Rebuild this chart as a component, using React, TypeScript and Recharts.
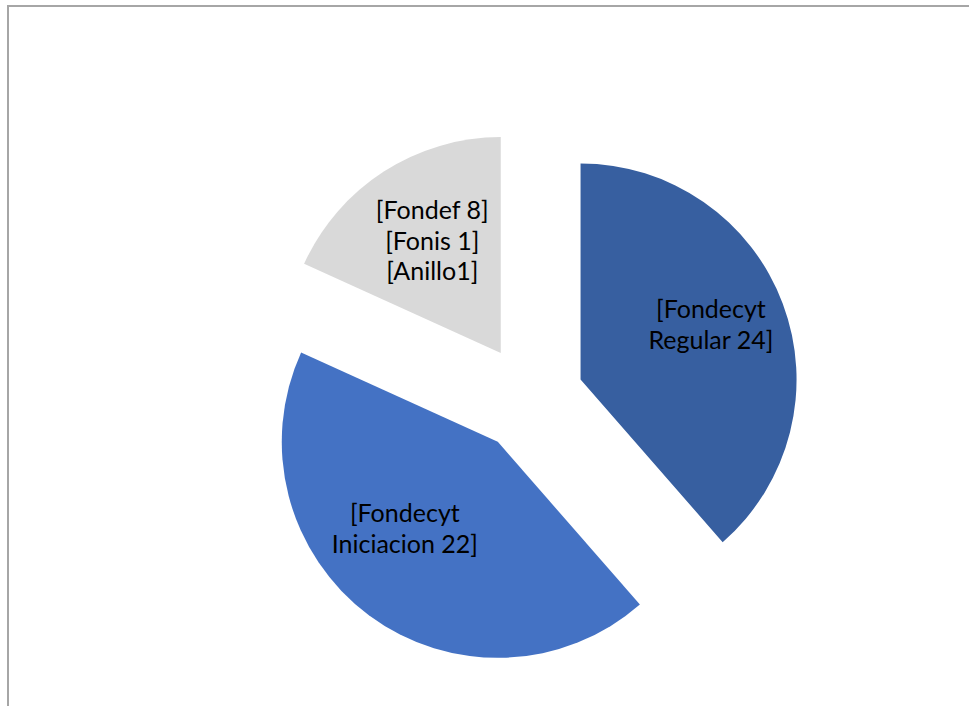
import React from "react";
import { PieChart, Pie, Cell } from "recharts";

// ---- data ----
const categories = ["Fondecyt Regular", "Fondecyt Iniciacion", "Fondef / Fonis / Anillo"];
const values = [21.6, 24.2, 10.2];
const labelLines: string[][] = [
  ["[Fondecyt", "Regular 24]"],
  ["[Fondecyt", "Iniciacion 22]"],
  ["[Fondef 8]", "[Fonis 1]", "[Anillo1]"],
];

// ---- styles ----
const COLORS = ["#375FA0", "#4472C4", "#D9D9D9"];
const W = 969;
const H = 706;
const CX = 530;
const CY = 398.5;
const R = 216;
const EXPLODE = 54;
const LABEL_FRAC = 0.62;
const LABEL_NUDGE = [
  [5, -9],
  [-13, -22],
  [4, -1],
];
const FONT = "Lato, 'Liberation Sans', sans-serif";
const FONT_SIZE = 25;
const LINE_H = 30.5;
const RADIAN = Math.PI / 180;

const rows = categories.map((name, i) => ({ name, value: values[i] }));
const total = values.reduce((a, b) => a + b, 0);
const midAngles = values.map((v, i) => {
  const before = values.slice(0, i).reduce((a, b) => a + b, 0);
  return 90 - ((before + v / 2) / total) * 360;
});

const makeLabel = (idx: number) => (props: any) => {
  if (props.index !== idx) return null;
  const { cx, cy, midAngle, outerRadius } = props;
  const r = outerRadius * LABEL_FRAC;
  const x = cx + r * Math.cos(-midAngle * RADIAN) + LABEL_NUDGE[idx][0];
  const y = cy + r * Math.sin(-midAngle * RADIAN) + LABEL_NUDGE[idx][1];
  const lines = labelLines[idx];
  const startY = y - ((lines.length - 1) * LINE_H) / 2;
  return (
    <text
      key={`lbl-${idx}`}
      x={x}
      y={startY}
      textAnchor="middle"
      dominantBaseline="central"
      fontFamily={FONT}
      fontSize={FONT_SIZE}
      fill="#000000"
    >
      {lines.map((t, k) => (
        <tspan key={k} x={x} y={startY + k * LINE_H}>
          {t}
        </tspan>
      ))}
    </text>
  );
};

export default function App() {
  return (
    <div style={{ position: "absolute", left: 0, top: 0, width: W, height: H, background: "#fff", overflow: "hidden" }}>
      <div
        style={{
          position: "absolute",
          left: 7,
          top: 5,
          width: W,
          height: H,
          borderTop: "2px solid #A6A6A6",
          borderLeft: "2px solid #A6A6A6",
        }}
      />
      <div style={{ position: "absolute", left: 0, top: 0 }}>
        <PieChart width={W} height={H} margin={{ top: 0, right: 0, bottom: 0, left: 0 }}>
          {values.map((_, i) => (
            <Pie
              key={i}
              data={rows}
              dataKey="value"
              nameKey="name"
              cx={CX + EXPLODE * Math.cos(-midAngles[i] * RADIAN)}
              cy={CY + EXPLODE * Math.sin(-midAngles[i] * RADIAN)}
              outerRadius={R}
              innerRadius={0}
              startAngle={90}
              endAngle={-270}
              stroke="none"
              isAnimationActive={false}
              labelLine={false}
              label={makeLabel(i)}
            >
              {rows.map((_, j) => (
                <Cell key={j} fill={j === i ? COLORS[j] : "transparent"} stroke="none" />
              ))}
            </Pie>
          ))}
        </PieChart>
      </div>
    </div>
  );
}
